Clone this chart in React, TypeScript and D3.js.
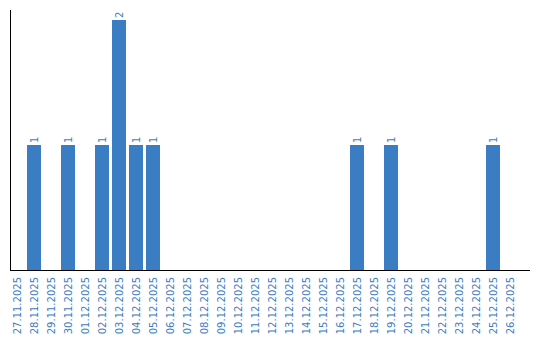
import React from "react";
import * as d3 from "d3";

const categories = [
  "27.11.2025","28.11.2025","29.11.2025","30.11.2025","01.12.2025","02.12.2025",
  "03.12.2025","04.12.2025","05.12.2025","06.12.2025","07.12.2025","08.12.2025",
  "09.12.2025","10.12.2025","11.12.2025","12.12.2025","13.12.2025","14.12.2025",
  "15.12.2025","16.12.2025","17.12.2025","18.12.2025","19.12.2025","20.12.2025",
  "21.12.2025","22.12.2025","23.12.2025","24.12.2025","25.12.2025","26.12.2025",
];
const values = [0,1,0,1,0,1,2,1,1,0,0,0,0,0,0,0,0,0,0,0,1,0,1,0,0,0,0,0,1,0];

const W = 540, H = 340;
const baseY = 270, topY = 20;
const color = "#3b7dc3";
const font = "'DejaVu Sans', Verdana, sans-serif";

export default function App() {
  const x = d3.scaleBand<string>().domain(categories).range([8.5, 518.5])
    .paddingInner(3 / 17).paddingOuter(1.5 / 17);
  const y = d3.scaleLinear().domain([0, 2]).range([baseY, topY]);
  const bw = x.bandwidth();
  return (
    <svg width={W} height={H} style={{ position: "absolute", left: 0, top: 0 }}>
      <rect width={W} height={H} fill="#fff" />
      {categories.map((c, i) => values[i] > 0 ? (
        <rect key={"b" + c} x={x(c)} y={y(values[i])} width={bw} height={baseY - y(values[i])} fill={color} />
      ) : null)}
      {categories.map((c, i) => values[i] > 0 ? (
        <text key={"v" + c} transform={`translate(${(x(c) as number) + bw / 2 + 3.5},${y(values[i]) - 2}) rotate(-90)`}
          fontFamily={font} fontSize={10} fill={color} textAnchor="start">{values[i]}</text>
      ) : null)}
      <line x1={10.5} y1={10} x2={10.5} y2={baseY} stroke="#000" strokeWidth={1} />
      <line x1={10} y1={baseY + 0.5} x2={530} y2={baseY + 0.5} stroke="#000" strokeWidth={1} />
      {categories.map((c) => (
        <text key={"l" + c} transform={`translate(${(x(c) as number) + bw / 2 + 3.5},277) rotate(-90)`}
          fontFamily={font} fontSize={10} fill={color} textAnchor="end">{c}</text>
      ))}
    </svg>
  );
}
